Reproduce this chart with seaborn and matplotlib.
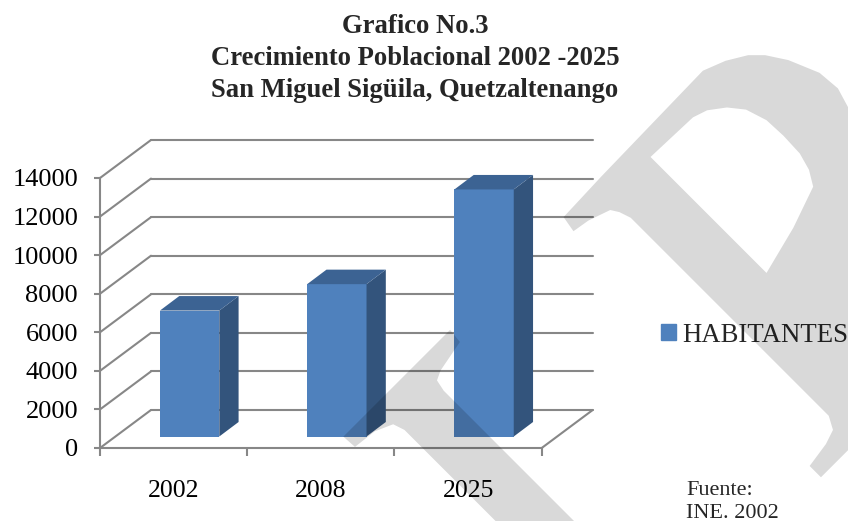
import numpy as np
import pandas as pd
import matplotlib
matplotlib.use("Agg")
import matplotlib.pyplot as plt
import matplotlib.transforms as mtransforms
from matplotlib.patches import Polygon, PathPatch, Patch
from matplotlib.path import Path
import seaborn as sns

# data
years = ["2002", "2008", "2025"]
habitantes = [6530, 7900, 12810]
y_ticks = [0, 2000, 4000, 6000, 8000, 10000, 12000, 14000]

title_lines = ["Grafico No.3",
               "Crecimiento Poblacional 2002 -2025",
               "San Miguel Sigüila, Quetzaltenango"]
serie = "HABITANTES"
fuente = "Fuente:\nINE. 2002"

front_c = "#4F81BD"
side_c = "#33547C"
top_c = "#3C6393"
grid_c = "#878787"

sns.set_theme(style="ticks")
plt.rcParams["font.family"] = ["Liberation Serif", "DejaVu Serif"]

W, H = 848, 521
fig = plt.figure(figsize=(W / 100, H / 100), dpi=100)


def fx(px):
    return px / W


def fy(py):
    return 1 - py / H


# front plane of the fake 3D box
x0_px, x1_px, y0_px, y1_px = 100, 541.7, 448, 178
ax = fig.add_axes([fx(x0_px), fy(y0_px), (x1_px - x0_px) / W, (y0_px - y1_px) / H])

df = pd.DataFrame({"Año": years, "HABITANTES": habitantes})
sns.barplot(data=df, x="Año", y="HABITANTES", color=front_c, saturation=1,
            width=0.403, ax=ax, zorder=3)

ax.set_xlim(-0.5, 2.5)
ax.set_ylim(0, 14000)
ax.set_xlabel("")
ax.set_ylabel("")

ux = (x1_px - x0_px) / 3          # px per category
uy = (y0_px - y1_px) / 14000      # px per habitante
dx, dy = 51 / ux, 38 / uy         # depth of the box in data units
sdx, sdy = 19.3 / ux, 14.5 / uy   # depth of each bar

# side wall and back wall lines
for v in y_ticks:
    ax.plot([-0.5, -0.5 + dx], [v, v + dy], color=grid_c, lw=1.5, clip_on=False, zorder=1)
    ax.plot([-0.5 + dx, 2.5 + dx], [v + dy, v + dy], color=grid_c, lw=1.5, clip_on=False, zorder=1)
ax.plot([2.5, 2.5 + dx], [0, dy], color=grid_c, lw=1.5, clip_on=False, zorder=1)

# bars sit a bit behind the front plane
bar_tr = mtransforms.offset_copy(ax.transData, fig=fig, x=16, y=11.5, units="dots")
for bar in list(ax.patches):
    bar.set_transform(bar_tr)
    bar.set_clip_on(False)
    bar.set_edgecolor("none")
    bx0 = bar.get_x()
    bx1 = bx0 + bar.get_width()
    h = bar.get_height()
    ax.add_patch(Polygon([(bx1, 0), (bx1 + sdx, sdy), (bx1 + sdx, h + sdy), (bx1, h)],
                         closed=True, facecolor=side_c, edgecolor="none",
                         transform=bar_tr, clip_on=False, zorder=3))
    ax.add_patch(Polygon([(bx0, h), (bx1, h), (bx1 + sdx, h + sdy), (bx0 + sdx, h + sdy)],
                         closed=True, facecolor=top_c, edgecolor="none",
                         transform=bar_tr, clip_on=False, zorder=3))

for s in ["top", "right"]:
    ax.spines[s].set_visible(False)
for s in ["left", "bottom"]:
    ax.spines[s].set_color(grid_c)
    ax.spines[s].set_linewidth(1.5)
    ax.spines[s].set_zorder(1)

ax.set_yticks(y_ticks)
ax.set_yticklabels([str(v) for v in y_ticks])
ax.tick_params(axis="y", left=True, direction="out", length=4.3, width=1.5,
               color=grid_c, pad=11.5, labelsize=19, labelcolor="black")

ax.set_xticks([-0.5, 0.5, 1.5, 2.5])
ax.set_xticklabels([])
ax.set_xticks([0, 1, 2], minor=True)
ax.set_xticklabels(years, minor=True)
ax.tick_params(axis="x", which="major", bottom=True, direction="out", length=5.8,
               width=1.5, color=grid_c)
ax.tick_params(axis="x", which="minor", bottom=True, length=0, pad=23,
               labelsize=18.5, labelcolor="black")

# title, one line at a time
for line, base in zip(title_lines, [33, 65, 97]):
    fig.text(fx(415), fy(base), line, ha="center", va="baseline", fontsize=19.2,
             fontweight="bold")

fig.legend(handles=[Patch(color=front_c)], labels=[serie], loc="center left",
           bbox_to_anchor=(fx(661), fy(335)), frameon=False, fontsize=19.3,
           handlelength=0.55, handleheight=0.55, handletextpad=0.25,
           borderpad=0, borderaxespad=0)

fig.text(fx(686), fy(481), fuente, ha="left", va="top", fontsize=16, linespacing=1.25)

# grey "TP" watermark, drawn in a frame rotated 45 degrees
def to_fig(pts):
    out = []
    for n, d in pts:
        x = (n + d) / np.sqrt(2)
        y = (d - n) / np.sqrt(2)
        out.append((fx(x), fy(y)))
    return out


def add_shape(rings):
    verts, codes = [], []
    for ring in rings:
        p = to_fig(ring)
        verts += p + [p[0]]
        codes += [Path.MOVETO] + [Path.LINETO] * (len(p) - 1) + [Path.CLOSEPOLY]
    fig.add_artist(PathPatch(Path(verts, codes), facecolor="black", alpha=0.15,
                             edgecolor="none", transform=fig.transFigure, zorder=10))


p_outer = [(245, 552), (300, 550), (447, 547), (470, 556), (490, 568), (502, 580),
           (515, 600), (528, 631), (530, 655), (524, 675), (530, 700), (525, 760),
           (490, 820), (440, 850), (349, 860), (349, 880), (400, 902), (400, 918),
           (243, 918), (243, 902), (270, 898), (285, 893), (292, 880), (292, 600),
           (288, 588), (283, 580), (260, 572), (242, 569)]
p_hole = [(349, 735), (400, 722), (443, 707), (452, 692), (457, 674), (458, 650),
          (457, 627), (450, 605), (438, 590), (422, 578), (407, 573), (349, 571)]
add_shape([p_outer, p_hole])

t_shape = [(-66, 551.5), (85, 551.5), (83.4, 567), (49.5, 573.5), (40, 578),
           (37.5, 590), (37.5, 820), (-18, 820), (-18, 590), (-22, 578),
           (-40, 570), (-65, 567)]
add_shape([t_shape])

fig.savefig("out.png", dpi=100)
